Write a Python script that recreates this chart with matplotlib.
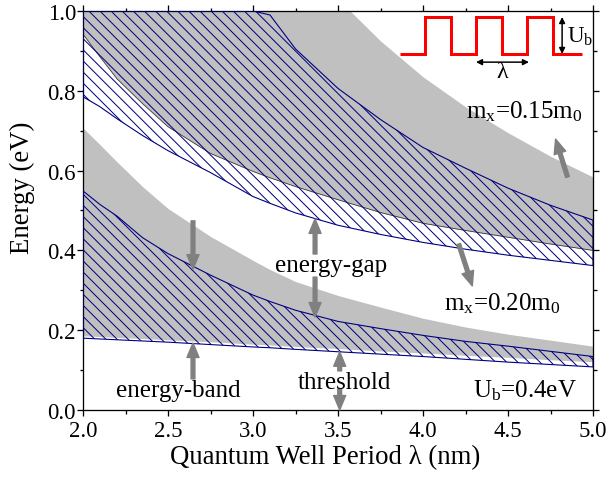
#!/usr/bin/env python
# coding: utf-8

import matplotlib
matplotlib.use('Agg')

import numpy as np
import matplotlib.pyplot as plt
from matplotlib.ticker import MultipleLocator

plt_dpi = 100


def px(v):
    # pixel size -> points at plt_dpi
    return v * 72.0 / plt_dpi


plt.rcParams['font.family']      = ['Liberation Serif', 'DejaVu Serif']
plt.rcParams['mathtext.fontset'] = 'custom'
plt.rcParams['mathtext.rm']      = 'Liberation Serif'
plt.rcParams['mathtext.it']      = 'Liberation Serif:italic'
plt.rcParams['hatch.linewidth']  = px(1.0)

# quantum well period (nm)
lam = [2.0, 2.1, 2.2, 2.35, 2.5, 2.75, 3.0, 3.1, 3.25, 3.5, 3.75, 4.0, 4.25, 4.5, 4.75, 5.0]

# m_x = 0.15 m0  -> gray bands
gray_band2_top = [1.1, 1.1, 1.1, 1.1, 1.1, 1.1, 1.1, 1.1, 1.1, 1.03, 0.925, 0.835, 0.76, 0.695, 0.636, 0.584]
gray_band2_bot = [0.942, 0.885, 0.83, 0.768, 0.71, 0.643, 0.598, 0.582, 0.56, 0.527, 0.495, 0.468, 0.45, 0.433, 0.416, 0.40]
gray_band1_top = [0.707, 0.665, 0.622, 0.56, 0.505, 0.435, 0.375, 0.352, 0.322, 0.287, 0.258, 0.23, 0.208, 0.19, 0.175, 0.16]
gray_band1_bot = [0.186, 0.184, 0.182, 0.179, 0.176, 0.171, 0.165, 0.163, 0.159, 0.154, 0.148, 0.143, 0.137, 0.132, 0.126, 0.121]

# m_x = 0.20 m0  -> hatched bands
hatch_band2_top = [1.0, 1.0, 1.0, 1.0, 1.0, 1.0, 1.0, 0.99, 0.905, 0.806, 0.728, 0.658, 0.606, 0.556, 0.513, 0.476]
hatch_band2_bot = [0.785, 0.76, 0.73, 0.688, 0.65, 0.595, 0.535, 0.518, 0.494, 0.463, 0.44, 0.42, 0.403, 0.388, 0.375, 0.362]
hatch_band1_top = [0.549, 0.515, 0.486, 0.432, 0.392, 0.338, 0.288, 0.272, 0.25, 0.222, 0.204, 0.187, 0.172, 0.16, 0.147, 0.134]
hatch_band1_bot = [0.18, 0.178, 0.176, 0.173, 0.17, 0.164, 0.158, 0.156, 0.152, 0.146, 0.14, 0.134, 0.127, 0.12, 0.114, 0.108]

# gray pointer arrows: (tail, tip)
arrows = [
    ((2.647, 0.078), (2.647, 0.168)),
    ((2.647, 0.474), (2.647, 0.353)),
    ((3.365, 0.391), (3.365, 0.479)),
    ((3.365, 0.333), (3.365, 0.233)),
    ((3.51, 0.098),  (3.51, 0.146)),
    ((3.51, 0.052),  (3.51, 0.0)),
    ((4.21, 0.416),  (4.29, 0.311)),
    ((4.85, 0.584),  (4.78, 0.679)),
]

labels = [
    ('energy-band',               2.56,  0.035),
    ('threshold',                 3.54,  0.055),
    ('energy-gap',                3.46,  0.349),
    (r'm$_\mathrm{x}$=0.20m$_0$', 4.468, 0.253),
    (r'm$_\mathrm{x}$=0.15m$_0$', 4.595, 0.734),
    (r'U$_\mathrm{b}$=0.4eV',     4.60,  0.035),
]

# inset: square well potential, in units of one period
wave_edges = [0, 0.5, 1.0, 1.5, 2.0, 2.5, 3.0, 3.57]
wave_level = [0, 1, 0, 1, 0, 1, 0]

gray_c  = '#c0c0c0'
arrow_c = '#808080'
navy    = '#000080'
hatch   = '\\\\\\'


def main():
    fig = plt.figure(figsize=(609 / plt_dpi, 481 / plt_dpi), dpi=plt_dpi)
    ax  = fig.add_axes([83 / 609, 1 - 411 / 481, 510 / 609, 399 / 481])

    ax.fill_between(lam, gray_band2_bot, gray_band2_top, color=gray_c, lw=0, zorder=1)
    ax.fill_between(lam, gray_band1_bot, gray_band1_top, color=gray_c, lw=0, zorder=1)
    ax.plot(lam, gray_band2_bot, color='#303030', lw=px(0.8), zorder=2)

    ax.fill_between(lam, hatch_band2_bot, hatch_band2_top, facecolor='none',
                    edgecolor=navy, hatch=hatch, lw=px(1.1), zorder=3)
    ax.fill_between(lam, hatch_band1_bot, hatch_band1_top, facecolor='none',
                    edgecolor=navy, hatch=hatch, lw=px(1.1), zorder=3)

    for tail, tip in arrows:
        ax.annotate('', xy=tip, xytext=tail,
                    arrowprops=dict(facecolor=arrow_c, edgecolor=arrow_c,
                                    width=px(3.8), headwidth=px(12), headlength=px(14.5), shrink=0),
                    zorder=4)

    for txt, x, y in labels:
        ax.text(x, y, txt, ha='center', va='baseline', fontsize=px(25), zorder=5)

    ax.set_xlim(2.0, 5.0)
    ax.set_ylim(0.0, 1.0)
    ax.xaxis.set_major_locator(MultipleLocator(0.5))
    ax.xaxis.set_minor_locator(MultipleLocator(0.25))
    ax.yaxis.set_major_locator(MultipleLocator(0.2))
    ax.yaxis.set_minor_locator(MultipleLocator(0.1))
    ax.xaxis.set_major_formatter(lambda v, p: '{:.1f}'.format(v))
    ax.yaxis.set_major_formatter(lambda v, p: '{:.1f}'.format(v))

    ax.tick_params(which='both', direction='out', top=True, right=True, width=px(1.3))
    ax.tick_params(which='major', length=px(6))
    ax.tick_params(which='minor', length=px(3.5))
    ax.tick_params(axis='x', labelsize=px(22.75), pad=px(4))
    ax.tick_params(axis='y', labelsize=px(22.75), pad=px(1))
    for sp in ax.spines.values():
        sp.set_linewidth(px(1.3))

    ax.set_xlabel('Quantum Well Period λ (nm)', fontsize=px(26.8))
    ax.set_ylabel('Energy (eV)', fontsize=px(26.8))
    ax.xaxis.set_label_coords(0.4755, -0.085)
    ax.yaxis.set_label_coords(-0.094, 0.559)

    # inset with the potential profile
    ins = fig.add_axes([400 / 609, 1 - 80.9 / 481, 182 / 609, 66.6 / 481])
    ins.set_xlim(0, 3.57)
    ins.set_ylim(-0.7, 1.1)
    ins.axis('off')
    ins.stairs(wave_level, wave_edges, baseline=None, color='red', lw=px(3.0), clip_on=False)
    ins.annotate('', xy=(3.18, 1.0), xytext=(3.18, 0.0),
                 arrowprops=dict(arrowstyle='<|-|>', color='k', lw=px(1.5),
                                 mutation_scale=px(12), shrinkA=0, shrinkB=0))
    ins.annotate('', xy=(2.53, -0.22), xytext=(1.49, -0.22),
                 arrowprops=dict(arrowstyle='<|-|>', color='k', lw=px(1.5),
                                 mutation_scale=px(12), shrinkA=0, shrinkB=0))
    ins.text(3.27, 0.49, r'U$_\mathrm{b}$', ha='left', va='center', fontsize=px(23))
    ins.text(2.0, -0.46, 'λ', ha='center', va='center', fontsize=px(24))

    fig.savefig('out.png', dpi=plt_dpi)


if __name__ == '__main__':
    main()
